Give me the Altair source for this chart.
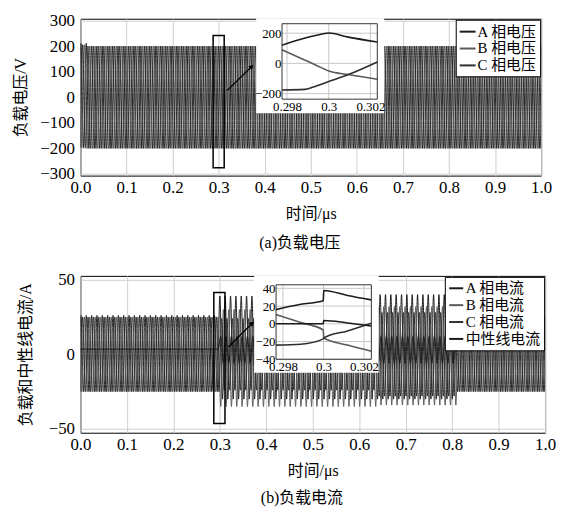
import bisect
import altair as alt
import pandas as pd

FONT = "'Liberation Serif', 'Noto Sans CJK SC', serif"

# ---------------- data ----------------
period = 0.0115          # visual period of one cycle on the main time axis
peak_ref = 0.3           # phase A has a peak here (see inset)
phase_shift = {"A": 0.0, "B": -period / 3, "C": period / 3, "N": period / 6}

# (a) load voltage, main panel
v_names = ["A 相电压", "B 相电压", "C 相电压"]
v_seg_start = [0.0, 0.013]
v_peak = {"A": [211, 200], "B": [205, 200], "C": [205, 200]}
v_trough = {"A": [-198, -200], "B": [-198, -200], "C": [-198, -200]}

# (a) inset 0.298 .. 0.302
vi_t = [0.29776, 0.29887, 0.29937, 0.3, 0.30094, 0.30233]
vi_A = [121, 168, 185, 201, 174, 142]
vi_B = [90, 21, -10, -50, -74, -105]
vi_C = [-176, -172, -151, -120, -74, 10]

# (b) load / neutral current, main panel
i_names = ["A 相电流", "B 相电流", "C 相电流", "中性线电流"]
i_seg_start = [0.0, 0.3, 0.64, 0.81]
i_peak = {"A": [26, 39, 40, 25], "B": [25, 30, 32, 25], "C": [25, 24, 28, 25], "N": [3.5, 12, 12, 3.5]}
i_trough = {"A": [-25, -30, -30, -25], "B": [-25, -35, -34, -25], "C": [-25, -24, -28, -25], "N": [3.5, -6, -6, 3.5]}

# (b) inset 0.298 .. 0.302
ii_t = [0.29765, 0.29888, 0.29999, 0.30001, 0.30118, 0.30236]
ii_A = [16, 22, 26, 37.6, 32, 27]
ii_B = [10.4, 1.5, -7, -16, -24, -31]
ii_C = [-24, -23, -17, -16, -8, 0.5]
ii_N = [0, 0, 0, 3.7, 1, -2.5]

# zoom boxes and arrows (main-axis units)
v_box = {"t": [0.288], "t2": [0.312], "v": [241], "v2": [-276]}
v_arrow = {"t": [0.3185, 0.3717], "v": [26, 120]}
i_box = {"t": [0.287], "t2": [0.311], "v": [41.4], "v2": [-46.3]}
i_arrow = {"t": [0.3185, 0.3696], "v": [4.9, 20.8]}

colors4 = ["#1c1c1c", "#5a5a5a", "#2e2e2e", "#1a1a1a"]


def extremes(seg_start, peaks, troughs, shift):
    half = period / 2
    base = peak_ref + shift
    k0 = int((0 - base) / half) - 2
    k1 = int((1 - base) / half) + 2
    ts, vs = [], []
    for k in range(k0, k1 + 1):
        t = base + k * half
        i = max(0, bisect.bisect_right(seg_start, t) - 1)
        ts.append(t)
        vs.append(peaks[i] if k % 2 == 0 else troughs[i])
    return ts, vs


def main_frame(names, keys, seg_start, peaks, troughs):
    rows = []
    for name, key in zip(names, keys):
        ts, vs = extremes(seg_start, peaks[key], troughs[key], phase_shift[key])
        rows += [{"t": t, "v": v, "series": name} for t, v in zip(ts, vs)]
    return pd.DataFrame(rows)


def inset_frame(names, t, series):
    rows = []
    for name, vals in zip(names, series):
        rows += [{"t": a, "v": b, "series": name} for a, b in zip(t, vals)]
    return pd.DataFrame(rows)


H = 158


def legend(sym):
    return alt.Legend(orient="top-right", offset=1, title=None, fillColor="white",
                      strokeColor="black", padding=3, labelFontSize=15, labelFont=FONT,
                      labelColor="black", symbolType="stroke", symbolSize=sym,
                      symbolStrokeWidth=2, rowPadding=0, labelOffset=1, labelLimit=300)


def panel(W, main_df, names, colors, ydom, yticks, ytitle, ytitle_pad, box, arrow,
          in_df, in_xdom, in_xrange, in_ydom, in_yrange, in_xticks, in_yticks,
          bg_x, bg_y, caption, cap_off, cap_dx, sym):
    cscale = alt.Scale(domain=names, range=colors)
    xs = alt.Scale(domain=[0, 1], nice=False, zero=False)
    ys = alt.Scale(domain=ydom, nice=False, zero=False)
    x_axis = alt.Axis(values=[i / 10 for i in range(11)], format=".1f", title="时间/μs",
                      grid=True, labelFontSize=17, titleFontSize=16, labelPadding=4,
                      titlePadding=10, tickSize=0, domain=False, labelFlush=False,
                      labelOverlap=False)
    y_axis = alt.Axis(values=yticks, title=ytitle, grid=True, labelFontSize=17,
                      titleFontSize=16, labelPadding=6, titlePadding=ytitle_pad, tickSize=0,
                      domain=False, labelFlush=False, labelOverlap=False, labelSeparation=0)
    X = lambda f: alt.X(f, scale=xs, axis=x_axis)
    Y = lambda f: alt.Y(f, scale=ys, axis=y_axis)
    lines = alt.Chart(main_df).mark_line(strokeWidth=1.0, interpolate="monotone", clip=True).encode(
        x=X("t:Q"), y=Y("v:Q"),
        color=alt.Color("series:N", scale=cscale, legend=legend(sym)),
    )
    boxc = alt.Chart(pd.DataFrame(box)).mark_rect(fillOpacity=0, stroke="black", strokeWidth=1.5).encode(
        x=X("t:Q"), x2="t2:Q", y=Y("v:Q"), y2="v2:Q")
    adf = pd.DataFrame(arrow)
    arr = alt.Chart(adf).mark_line(color="black", strokeWidth=1.2).encode(x=X("t:Q"), y=Y("v:Q"))
    head = alt.Chart(adf.iloc[[1]]).mark_point(shape="triangle-up", angle=45, size=28,
                                              filled=True, color="black", opacity=1).encode(
        x=X("t:Q"), y=Y("v:Q"))
    main = alt.layer(lines, boxc, arr, head)

    ixs = alt.Scale(domain=in_xdom, range=in_xrange, nice=False, zero=False)
    iys = alt.Scale(domain=in_ydom, range=in_yrange, nice=False, zero=False)
    ix_axis = alt.Axis(orient="bottom", offset=-(H - in_yrange[0]), values=in_xticks,
                       format=".3~f", title=None, grid=False, labelFontSize=13,
                       labelPadding=1, tickSize=0, domain=False, zindex=2,
                       labelFlush=False, labelOverlap=False)
    iy_axis = alt.Axis(orient="left", offset=-in_xrange[0], values=in_yticks, title=None,
                       grid=False, labelFontSize=13, labelPadding=1, tickSize=0,
                       domain=False, zindex=2, labelFlush=False, labelOverlap=False)
    IX = lambda f: alt.X(f, scale=ixs, axis=ix_axis)
    IY = lambda f: alt.Y(f, scale=iys, axis=iy_axis)
    bg = alt.Chart(pd.DataFrame({"t": [bg_x[0]], "t2": [bg_x[1]], "v": [bg_y[0]], "v2": [bg_y[1]]})).mark_rect(
        color="white", opacity=1).encode(x=IX("t:Q"), x2="t2:Q", y=IY("v:Q"), y2="v2:Q")
    vg = alt.Chart(pd.DataFrame({"t": in_xticks, "v": [in_ydom[0]] * len(in_xticks),
                                 "v2": [in_ydom[1]] * len(in_xticks)})).mark_rule(
        color="#c8c8c8", strokeWidth=1).encode(x=IX("t:Q"), y=IY("v:Q"), y2="v2:Q")
    hg = alt.Chart(pd.DataFrame({"v": in_yticks, "t": [in_xdom[0]] * len(in_yticks),
                                 "t2": [in_xdom[1]] * len(in_yticks)})).mark_rule(
        color="#c8c8c8", strokeWidth=1).encode(y=IY("v:Q"), x=IX("t:Q"), x2="t2:Q")
    ilines = alt.Chart(in_df).mark_line(strokeWidth=1.6, interpolate="monotone").encode(
        x=IX("t:Q"), y=IY("v:Q"),
        color=alt.Color("series:N", scale=cscale, legend=legend(sym)))
    frame = alt.Chart(pd.DataFrame({"t": [in_xdom[0]], "t2": [in_xdom[1]],
                                    "v": [in_ydom[0]], "v2": [in_ydom[1]]})).mark_rect(
        fillOpacity=0, stroke="#333333", strokeWidth=1).encode(
        x=IX("t:Q"), x2="t2:Q", y=IY("v:Q"), y2="v2:Q")
    inset = alt.layer(bg, vg, hg, ilines, frame)

    return alt.layer(main, inset).resolve_scale(x="independent", y="independent").properties(
        width=W, height=H,
        title=alt.TitleParams(caption, orient="bottom", anchor="middle", offset=cap_off,
                              fontSize=16, font=FONT, fontWeight="normal", color="black", dx=cap_dx))


v_main = main_frame(v_names, ["A", "B", "C"], v_seg_start, v_peak, v_trough)
v_in = inset_frame(v_names, vi_t, [vi_A, vi_B, vi_C])
i_main = main_frame(i_names, ["A", "B", "C", "N"], i_seg_start, i_peak, i_trough)
i_in = inset_frame(i_names, ii_t, [ii_A, ii_B, ii_C, ii_N])

top = panel(464, v_main, v_names, colors4[:3], [-307, 307], [-300, -200, -100, 0, 100, 200, 300],
            "负载电压/V", 11, v_box, v_arrow, v_in, [0.29776, 0.30233], [203, 299],
            [-237, 263], [81, 5], [0.298, 0.3, 0.302], [-200, 0, 200],
            [0.29652, 0.30266], [-330, 300], "(a)负载电压", 14, -11, 256)
bottom = panel(468, i_main, i_names, colors4, [-52.5, 52.5], [-50, 0, 50],
               "负载和中性线电流/A", 15, i_box, i_arrow, i_in, [0.29766, 0.30236], [197, 293],
               [-40, 44], [84, 9], [0.298, 0.3, 0.302], [-40, -20, 0, 20, 40],
               [0.29658, 0.30272], [-55.3, 54.4], "(b)负载电流", 12, -11, 200)

chart = alt.concat(top, bottom, columns=1, spacing=18, align="none").resolve_scale(
    color="independent").properties(
    padding={"left": 4, "top": 1, "right": 0, "bottom": 0}
).configure(font=FONT).configure_view(stroke="black", strokeWidth=1).configure_axis(
    labelFont=FONT, titleFont=FONT, labelColor="black", titleColor="black",
    gridColor="#cfcfcf", gridWidth=1, titleFontWeight="normal", labelOverlap=False
)

chart.save("out.html", embed_options={"renderer": "svg", "actions": False})
